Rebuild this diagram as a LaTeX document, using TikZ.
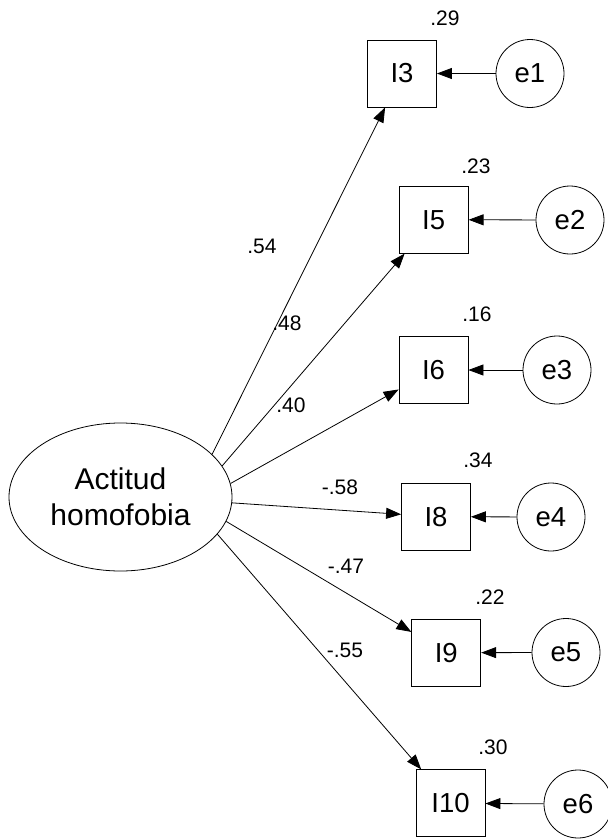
\documentclass[tikz,border=0pt]{standalone}
\usepackage{fontspec}
\setmainfont{Liberation Sans}
\usetikzlibrary{arrows.meta,shapes.geometric}
\begin{document}
\begin{tikzpicture}[x=1pt,y=-1pt,
  every node/.style={inner sep=0pt},
  obs/.style={draw,line width=0.8pt,minimum width=69pt,minimum height=67pt,font=\fontsize{27.5}{31}\selectfont},
  err/.style={draw,circle,line width=0.8pt,minimum size=68pt,font=\fontsize{27.5}{31}\selectfont},
  lat/.style={draw,ellipse,line width=0.8pt,minimum width=223pt,minimum height=148pt,align=center,font=\fontsize{30}{35.5}\selectfont},
  num/.style={font=\fontsize{21}{24}\selectfont},
  link/.style={line width=0.8pt,-{Triangle[length=15pt,width=11pt]}}
]
\useasboundingbox (0,0) rectangle (608,839);
\node[lat] (A) at (120.5,497) {Actitud\\homofobia};
\node[obs] (I3) at (402,73.5) {I3};
\node[obs] (I5) at (433.7,219.7) {I5};
\node[obs] (I6) at (433.5,370) {I6};
\node[obs] (I8) at (436,516.7) {I8};
\node[obs] (I9) at (446.3,652.7) {I9};
\node[obs] (I10) at (450.5,803.3) {I10};
\node[err] (e1) at (530,73.5) {e1};
\node[err] (e2) at (570,220) {e2};
\node[err] (e3) at (557,370) {e3};
\node[err] (e4) at (551,517) {e4};
\node[err] (e5) at (566,652.5) {e5};
\node[err] (e6) at (578,804) {e6};
\draw[link] (A.25.3) -- (I3);
\draw[link] (A.17.1) -- (I5);
\draw[link] (A.7.6) -- (I6);
\draw[link] (A.-3.1) -- (I8);
\draw[link] (A.-13.7) -- (I9);
\draw[link] (A.-21.4) -- (I10);
\draw[link] (e1) -- (I3);
\draw[link] (e2) -- (I5);
\draw[link] (e3) -- (I6);
\draw[link] (e4) -- (I8);
\draw[link] (e5) -- (I9);
\draw[link] (e6) -- (I10);
\node[num] (v1) at (445,18.5) {.29};
\node[num] (v2) at (476,166) {.23};
\node[num] (v3) at (477,314) {.16};
\node[num] (v4) at (478,460) {.34};
\node[num] (v5) at (490,597) {.22};
\node[num] (v6) at (493,747) {.30};
\node[num] (c1) at (262,246) {.54};
\node[num] (c2) at (287,323) {.48};
\node[num] (c3) at (291,405) {.40};
\node[num] (c4) at (340,487) {-.58};
\node[num] (c5) at (346,566) {-.47};
\node[num] (c6) at (345,650) {-.55};
\end{tikzpicture}
\end{document}
